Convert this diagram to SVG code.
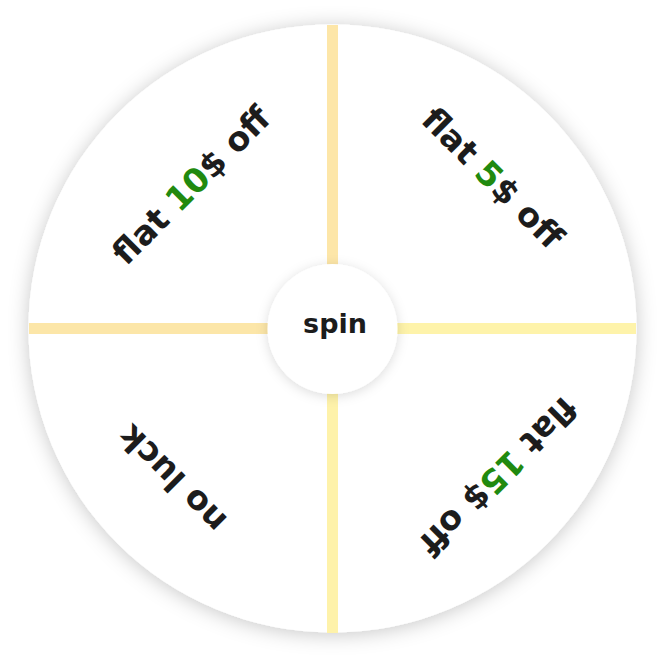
<svg xmlns="http://www.w3.org/2000/svg" width="672" height="660" viewBox="0 0 672 660">
  <defs>
    <filter id="wheelShadow" x="-20%" y="-20%" width="140%" height="140%">
      <feDropShadow dx="0" dy="2" stdDeviation="10" flood-color="#000" flood-opacity="0.22"/>
    </filter>
    <filter id="hubShadow" x="-40%" y="-40%" width="180%" height="180%">
      <feDropShadow dx="0" dy="2" stdDeviation="6" flood-color="#000" flood-opacity="0.14"/>
    </filter>
    <style>
      .lbl { font-family: "DejaVu Sans", "Liberation Sans", sans-serif; font-weight: bold; font-size: 33.5px; fill: #1c1c1c; text-anchor: middle; }
      .num { fill: #218a0f; }
      .spin { font-family: "DejaVu Sans", "Liberation Sans", sans-serif; font-weight: bold; font-size: 27px; fill: #1c1c1c; text-anchor: middle; }
    </style>
  </defs>
  <rect width="672" height="660" fill="#ffffff"/>
  <g id="wheel">
    <circle cx="332.5" cy="328.5" r="304" fill="#ffffff" filter="url(#wheelShadow)"/>
  </g>
  <g id="dividers">
    <rect x="327" y="25" width="11" height="245" fill="#FDE6A8"/>
    <rect x="327" y="390" width="11" height="243" fill="#FEF2AA"/>
    <rect x="29" y="323" width="245" height="11" fill="#FCE6A8"/>
    <rect x="392" y="323" width="244" height="11" fill="#FEF3AA"/>
  </g>
  <g id="seg-10">
    <text class="lbl" transform="translate(332.5,328.5) rotate(-45) translate(1.4,-189.5)">flat <tspan class="num">10</tspan>$ off</text>
  </g>
  <g id="seg-5">
    <text class="lbl" transform="translate(332.5,328.5) rotate(45) translate(7,-208)">flat <tspan class="num">5</tspan>$ off</text>
  </g>
  <g id="seg-15">
    <text class="lbl" transform="translate(332.5,328.5) rotate(135) translate(-12.7,-210)">flat <tspan class="num">15</tspan>$ off</text>
  </g>
  <g id="seg-noluck">
    <text class="lbl" transform="translate(332.5,328.5) rotate(225) translate(6.7,-208)">no luck</text>
  </g>
  <g id="hub">
    <circle cx="332.5" cy="329" r="65" fill="#ffffff" filter="url(#hubShadow)"/>
    <text class="spin" x="335" y="333">spin</text>
  </g>
</svg>
